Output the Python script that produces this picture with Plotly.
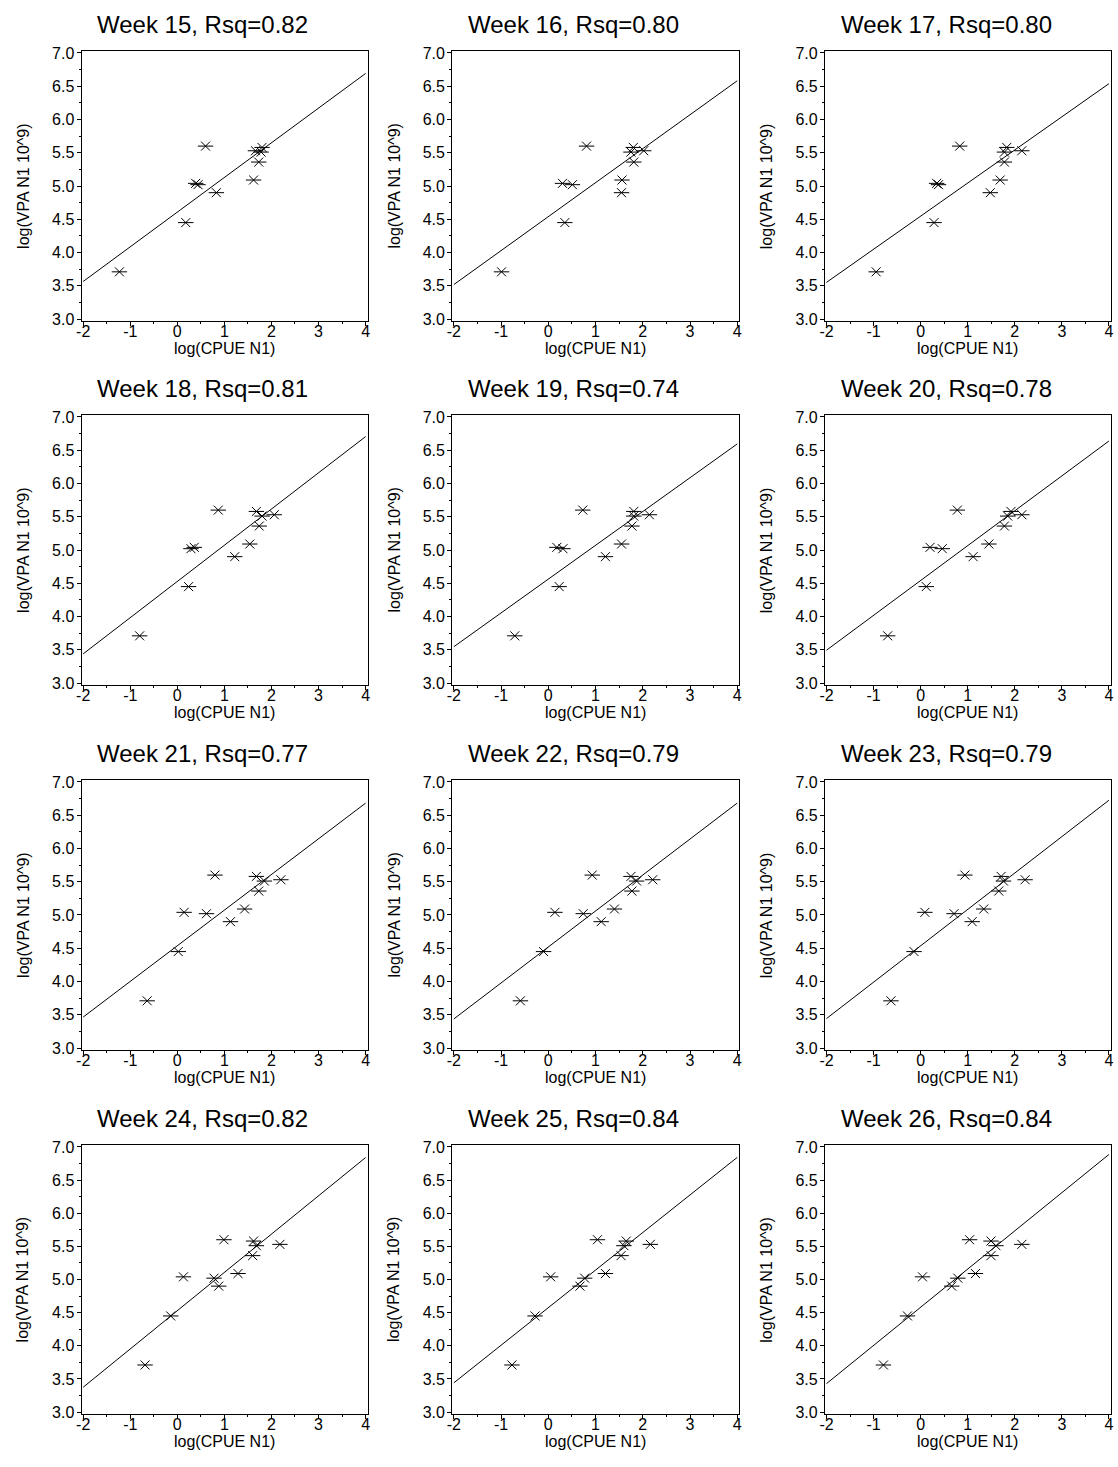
import numpy as np
import plotly.graph_objects as go

# ---- data ----
weeks = [15, 16, 17, 18, 19, 20, 21, 22, 23, 24, 25, 26]
rsq_labels = ["0.82", "0.80", "0.80", "0.81", "0.74", "0.78",
              "0.77", "0.79", "0.79", "0.82", "0.84", "0.84"]

# log(VPA N1 10^9) - same for every week
vpa_n1 = [3.71, 4.45, 4.90, 5.02, 5.04, 5.09, 5.36, 5.51, 5.53, 5.58, 5.60]

# log(CPUE N1) per week, same point order as vpa_n1
cpue_w15 = [-1.23, 0.18, 0.83, 0.44, 0.39, 1.62, 1.73, 1.78, 1.66, 1.80, 0.60]
cpue_w16 = [-0.99, 0.35, 1.55, 0.51, 0.30, 1.56, 1.81, 1.75, 2.02, 1.80, 0.81]
cpue_w17 = [-0.945, 0.285, 1.48, 0.38, 0.34, 1.69, 1.78, 1.78, 2.15, 1.83, 0.83]
cpue_w18 = [-0.80, 0.24, 1.22, 0.29, 0.36, 1.54, 1.74, 1.80, 2.06, 1.68, 0.87]
cpue_w19 = [-0.71, 0.23, 1.21, 0.31, 0.18, 1.55, 1.77, 1.81, 2.14, 1.81, 0.73]
cpue_w20 = [-0.70, 0.12, 1.115, 0.46, 0.20, 1.45, 1.78, 1.85, 2.15, 1.92, 0.78]
cpue_w21 = [-0.64, 0.02, 1.13, 0.62, 0.145, 1.43, 1.73, 1.85, 2.20, 1.68, 0.80]
cpue_w22 = [-0.59, -0.10, 1.12, 0.74, 0.14, 1.40, 1.77, 1.87, 2.21, 1.75, 0.93]
cpue_w23 = [-0.63, -0.14, 1.095, 0.71, 0.09, 1.34, 1.66, 1.76, 2.22, 1.71, 0.94]
cpue_w24 = [-0.685, -0.14, 0.88, 0.78, 0.13, 1.29, 1.60, 1.68, 2.18, 1.62, 0.99]
cpue_w25 = [-0.77, -0.28, 0.67, 0.77, 0.05, 1.21, 1.54, 1.60, 2.16, 1.65, 1.04]
cpue_w26 = [-0.79, -0.28, 0.66, 0.79, 0.04, 1.165, 1.495, 1.60, 2.15, 1.495, 1.04]

cpue_all = [cpue_w15, cpue_w16, cpue_w17, cpue_w18, cpue_w19, cpue_w20,
            cpue_w21, cpue_w22, cpue_w23, cpue_w24, cpue_w25, cpue_w26]

x_ticks = [-2, -1, 0, 1, 2, 3, 4]
y_ticks = [3.0, 3.5, 4.0, 4.5, 5.0, 5.5, 6.0, 6.5, 7.0]
y_ticklabels = ["3.0", "3.5", "4.0", "4.5", "5.0", "5.5", "6.0", "6.5", "7.0"]
x_title = "log(CPUE N1)"
y_title = "log(VPA N1 10^9)"

# ---- layout geometry (pixels) ----
W, H = 1118, 1467
col_px = [(77, 365), (450, 739), (825, 1113)]
row_px = [(45, 318), (412, 685), (780, 1053), (1148, 1420)]
FONT = "Liberation Sans, Arial, sans-serif"

fig = go.Figure()
layout = dict(
    width=W, height=H,
    margin=dict(l=0, r=0, t=0, b=0),
    paper_bgcolor="white", plot_bgcolor="white",
    showlegend=False,
    font=dict(family=FONT, color="black", size=16),
)
annotations = []

for i, (wk, rs, xs) in enumerate(zip(weeks, rsq_labels, cpue_all)):
    r, c = divmod(i, 3)
    k = i + 1
    xa = "x" if k == 1 else f"x{k}"
    ya = "y" if k == 1 else f"y{k}"
    x0, x1 = col_px[c]
    y0, y1 = row_px[r]

    # regression line
    slope, intercept = np.polyfit(xs, vpa_n1, 1)
    lx = np.array([x_ticks[0], x_ticks[-1]], dtype=float)
    fig.add_trace(go.Scatter(
        x=lx, y=intercept + slope * lx, mode="lines",
        line=dict(color="black", width=1), xaxis=xa, yaxis=ya,
        hoverinfo="skip"))
    # star markers (six-armed: horizontal bar + diagonal cross)
    fig.add_trace(go.Scatter(
        x=xs, y=vpa_n1, mode="markers",
        marker=dict(symbol="line-ew-open", size=11, color="black",
                    line=dict(color="black", width=1)),
        xaxis=xa, yaxis=ya, hoverinfo="skip"))
    fig.add_trace(go.Scatter(
        x=xs, y=vpa_n1, mode="markers",
        marker=dict(symbol="x-thin-open", size=9, color="black",
                    line=dict(color="black", width=1)),
        xaxis=xa, yaxis=ya))

    axis_common = dict(
        showgrid=False, zeroline=False, showline=True, linecolor="black",
        linewidth=1, mirror=True, ticks="outside", ticklen=4, tickwidth=1,
        tickcolor="black", tickfont=dict(family=FONT, size=16, color="black"),
    )
    layout["xaxis" if k == 1 else f"xaxis{k}"] = dict(
        axis_common,
        domain=[x0 / W, x1 / W], anchor=ya,
        range=[-2.035, 4.045], tickvals=x_ticks,
        ticktext=[str(v) for v in x_ticks],
        ticklabelstandoff=-9,
        minor=dict(dtick=0.5, ticks="outside", ticklen=2, tickcolor="black"),
    )
    layout["yaxis" if k == 1 else f"yaxis{k}"] = dict(
        axis_common,
        domain=[1 - y1 / H, 1 - y0 / H], anchor=xa,
        range=[2.965, 7.035], tickvals=y_ticks, ticktext=y_ticklabels,
        ticklabelstandoff=-1,
        minor=dict(dtick=0.25, ticks="outside", ticklen=2, tickcolor="black"),
    )

    # panel title
    annotations.append(dict(
        text=f"Week {wk}, Rsq={rs}", xref="paper", yref="paper",
        x=(x0 + 14) / W, y=1 - (y0 - 26) / H, xanchor="left", yanchor="middle",
        showarrow=False, font=dict(family=FONT, size=24, color="black")))
    # x axis title
    annotations.append(dict(
        text=x_title, xref="paper", yref="paper",
        x=((x0 + x1) / 2) / W, y=1 - (y1 + 27) / H,
        xanchor="center", yanchor="middle", showarrow=False,
        font=dict(family=FONT, size=16, color="black")))
    # y axis title
    annotations.append(dict(
        text=y_title, xref="paper", yref="paper",
        x=(x0 - 59) / W, y=1 - ((y0 + y1) / 2) / H,
        xanchor="center", yanchor="middle", textangle=-90, showarrow=False,
        font=dict(family=FONT, size=16, color="black")))

layout["annotations"] = annotations
fig.update_layout(**layout)
fig.write_html("out.html")
